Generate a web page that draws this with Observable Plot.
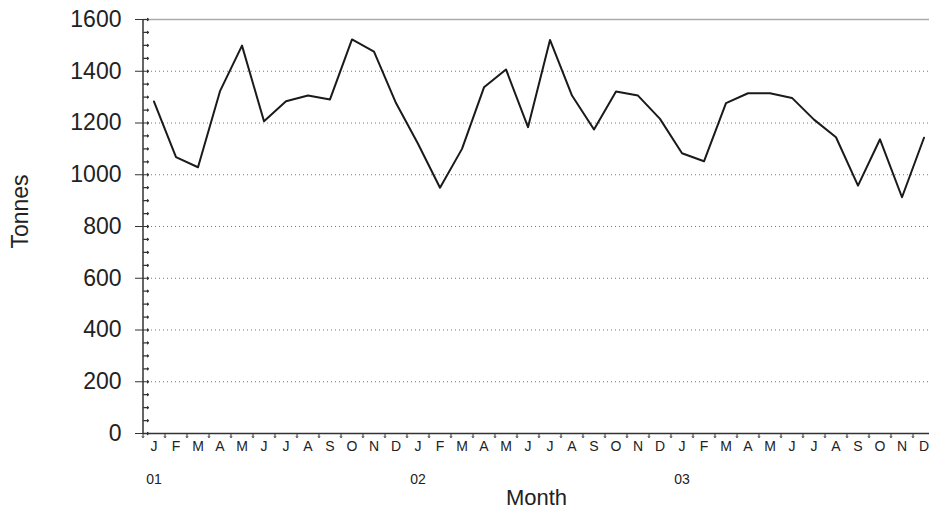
<!DOCTYPE html>
<html>
<head>
<meta charset="utf-8">
<script src="https://cdn.jsdelivr.net/npm/d3@7"></script>
<script src="https://cdn.jsdelivr.net/npm/@observablehq/plot@0.6"></script>
<style>
  html, body { margin: 0; padding: 0; background: #fff; overflow: hidden; }
  #chart svg { overflow: hidden; display: block; }
</style>
</head>
<body>
<div id="chart"></div>
<script>
const monthLetters = ["J","F","M","A","M","J","J","A","S","O","N","D"];
const yearLabels = ["01","02","03"];
const tonnes = [
  1283, 1068, 1029, 1323, 1499, 1207, 1284, 1306, 1291, 1523, 1476, 1277,
  1120,  950, 1100, 1338, 1407, 1184, 1521, 1306, 1175, 1322, 1306, 1216,
  1083, 1052, 1277, 1315, 1315, 1297, 1213, 1145,  958, 1137,  913, 1143
];
const yTicks = [0, 200, 400, 600, 800, 1000, 1200, 1400, 1600];
const gridValues = [200, 400, 600, 800, 1000, 1200, 1400];
const minorTicks = d3.range(0, 1601, 50);

const data = tonnes.map((v, i) => ({i, v}));
const monthIdx = d3.range(tonnes.length);
const bounds = d3.range(tonnes.length + 1).map(i => i - 0.5);

const ink = "#222";
const chart = Plot.plot({
  width: 929,
  height: 513,
  marginLeft: 143,
  marginRight: 0,
  marginTop: 19,
  marginBottom: 80,
  style: {fontFamily: "'Liberation Sans', Arial, sans-serif", color: ink, background: "#fff"},
  x: {type: "linear", domain: [-0.5, tonnes.length - 0.5], range: [142.5, 934.5]},
  y: {domain: [0, 1600]},
  marks: [
    Plot.ruleY(gridValues, {stroke: "#777", strokeDasharray: "1,3", strokeWidth: 1}),
    Plot.ruleY([1600], {stroke: "#aaa", strokeWidth: 1.5}),
    Plot.ruleY([0], {stroke: "#333", strokeWidth: 1.5}),
    Plot.ruleX([-0.5], {stroke: "#333", strokeWidth: 1.5}),
    Plot.vector(minorTicks, {y: d => d, frameAnchor: "left", rotate: 90, length: 5, anchor: "start", stroke: "#333", strokeWidth: 1.2}),
    Plot.axisY(yTicks, {tickSize: 8, tickPadding: 14, fontSize: 23, label: null, stroke: "#333", tickFormat: d => String(d)}),
    Plot.vector(bounds, {x: d => d, frameAnchor: "bottom", rotate: 180, length: 4, anchor: "start", stroke: "#333", strokeWidth: 1}),
    Plot.axisX(monthIdx, {tickSize: 0, tickPadding: 8, fontSize: 14, label: null, fill: ink, tickFormat: i => monthLetters[i % 12]}),
    Plot.text(yearLabels, {x: (d, i) => i * 12, text: d => d, frameAnchor: "bottom", lineAnchor: "top", dy: 41, fontSize: 14, fill: ink}),
    Plot.text(["Month"], {text: d => d, frameAnchor: "bottom", lineAnchor: "middle", dy: 64, fontSize: 22, fill: ink}),
    Plot.text(["Tonnes"], {text: d => d, frameAnchor: "left", textAnchor: "middle", lineAnchor: "middle", rotate: -90, dx: -123, dy: -15, fontSize: 23, fill: ink}),
    Plot.line(data, {x: "i", y: "v", stroke: "#1a1a1a", strokeWidth: 2})
  ]
});
document.getElementById("chart").appendChild(chart);
</script>
</body>
</html>
